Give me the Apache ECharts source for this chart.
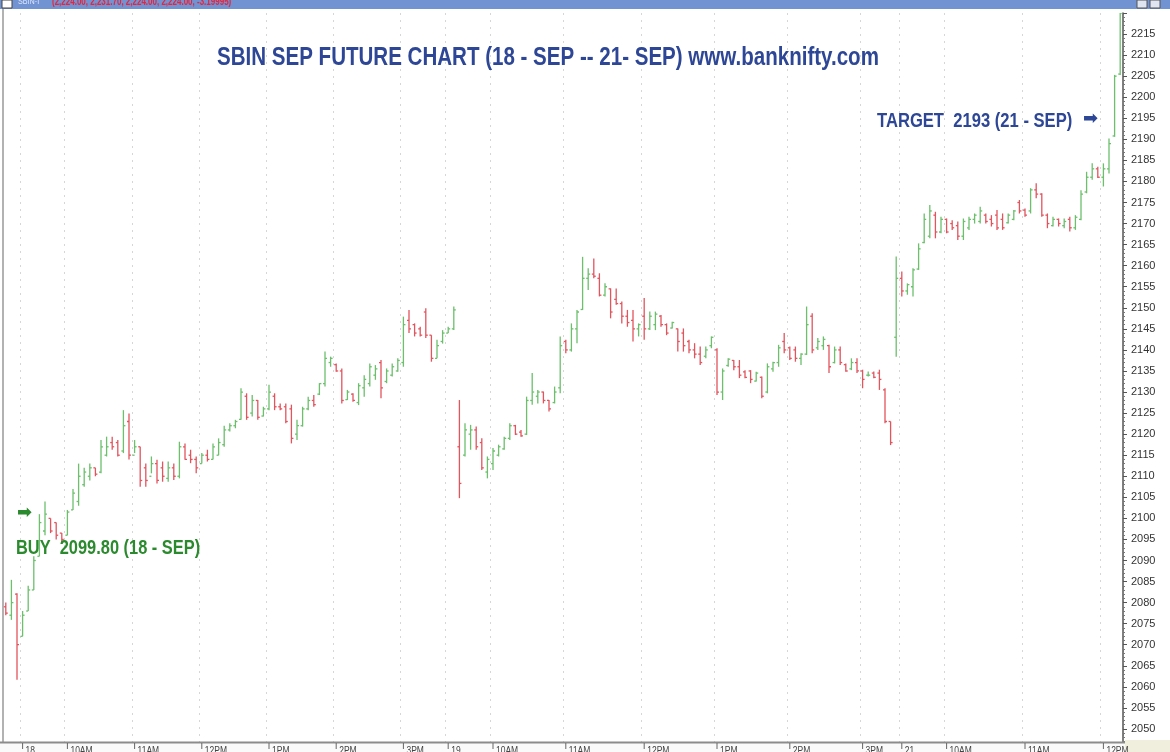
<!DOCTYPE html>
<html>
<head>
<meta charset="utf-8">
<script src="https://cdn.jsdelivr.net/npm/echarts@6/dist/echarts.min.js"></script>
<style>
  html, body { margin: 0; padding: 0; background: #fff; }
  #chart { width: 1170px; height: 752px; }
</style>
</head>
<body>
<div id="chart"></div>
<script>
// bars as [open, high, low, close]
const day1Bars = [
  [2079,2080,2077,2077.5],[2077,2085.4,2075.9,2080],[2082,2082.2,2061.7,2070],[2072,2078,2072,2077],
  [2078,2084,2078,2083],[2083,2091,2083,2090],[2091,2101,2091,2099],[2097,2104,2096,2101],
  [2100,2100,2096.5,2097],[2099,2099,2095,2096],[2096.5,2096.5,2094,2095],[2096,2102,2096,2101.5],
  [2102,2107,2102,2106],[2104,2113,2103,2110],[2108,2112,2107.5,2111],[2110,2113,2109,2112],
  [2112,2112,2110,2110.5],[2111,2118.6,2110.7,2117],[2115,2119.4,2114.7,2117],[2118,2119.4,2116.3,2117],
  [2118,2118.6,2114.7,2115],[2116,2125.7,2115.5,2122],[2123,2124.9,2114,2115],[2115,2118.6,2115.5,2117],
  [2117,2117,2107.5,2109],[2112,2113,2107.5,2109],[2110,2114.7,2110.7,2113],[2113,2113.9,2108.3,2109],
  [2112,2113.5,2108.7,2110],[2109.5,2113.5,2108.7,2112],[2112,2113,2109.1,2110],[2110,2118.2,2109.5,2117],
  [2117,2117.8,2113.9,2114],[2115,2116.3,2113.1,2114],[2114,2114.7,2110.7,2112],[2113,2115.5,2113,2115],
  [2115,2116.3,2113.5,2114],[2114,2117.8,2114,2117],[2115,2119,2115,2118],[2117.5,2122,2117,2121],
  [2121,2122.6,2120.6,2122],[2122,2123.4,2121.4,2123],[2123.5,2130.9,2123.4,2130],[2129,2129.7,2123.4,2124],
  [2125,2129.3,2124.2,2128],[2128,2128.1,2123.4,2124],[2124.3,2126.5,2124.2,2126],[2126,2131.7,2125.7,2130],
  [2129,2129.7,2125.7,2126.5],[2126.5,2127.3,2125.7,2126],[2126.5,2127.3,2122.6,2123],[2126,2127,2117.8,2119],
  [2120,2123.4,2118.6,2122],[2122,2126.5,2121.8,2126],[2126,2128.9,2125.7,2128],[2128,2129.3,2126.5,2127],
  [2129.5,2132.1,2129.3,2132],[2132,2139.6,2131.3,2138],[2137,2138.4,2136,2138],[2136.5,2136.8,2134.8,2135],
  [2135,2135.6,2127.3,2128],[2128.2,2130.5,2128.1,2130],[2129.5,2129.7,2127.7,2128],[2127.5,2132.1,2126.9,2131.5],
  [2131,2134,2128.9,2133],[2132,2136.8,2131.3,2136],[2134,2136.4,2132.9,2135.5],[2137,2137.6,2128.5,2131],
  [2132.5,2135.6,2132.1,2135],[2134,2136.8,2133.7,2136],[2135,2138,2134.8,2137.5],[2137,2147.9,2136,2146],
  [2147,2149.5,2144,2145],[2146,2146.3,2143.2,2144],[2145,2145.5,2143.2,2143.5],[2149,2149.9,2142.8,2143.5],
  [2143.5,2143.5,2137.2,2138],[2138,2142.4,2138,2141],[2142,2144.7,2141.5,2144],[2144,2145.5,2144,2145],
  [2145,2150.3,2144.7,2149.5]
];
const day2Bars = [
  [2117,2128.1,2104.8,2108.3],[2115,2122.6,2114.7,2121],[2120,2122.2,2116.3,2121],[2121,2121.8,2116.3,2117],
  [2118,2119,2111.5,2112],[2111,2114.7,2109.5,2114],[2113,2116.7,2111.5,2116],[2115,2117.5,2114.7,2117],
  [2116.5,2119.4,2116.3,2119],[2119,2122.6,2118.6,2122],[2122,2122.2,2119.8,2120],[2120.5,2121,2119.4,2119.6],
  [2120,2128.9,2119.8,2128],[2128,2134.5,2127,2130],[2129,2130.5,2127.3,2130],[2130,2130.1,2127.3,2128],
  [2128,2128.1,2125.4,2126],[2127.5,2131.3,2127.3,2130],[2131,2143.2,2129.7,2141],[2142,2142.4,2139.2,2140],
  [2140,2146.3,2139.6,2145],[2145,2149.5,2141.6,2149],[2149.6,2162.1,2149.5,2157],[2157,2159.4,2154.2,2158],
  [2158,2161.7,2157,2157.5],[2157,2158.2,2152.7,2153],[2153,2155.8,2152.7,2155],[2154.5,2154.6,2147.5,2149],
  [2152,2154.6,2150.7,2151],[2151,2151.5,2146.3,2148],[2148,2149.5,2145.5,2146.5],[2147,2149.5,2142,2145],
  [2145,2146.3,2143.2,2146],[2148,2152.3,2142.4,2145],[2145,2149.1,2144.7,2148],[2146,2149.1,2144.7,2148.5],
  [2148,2148.3,2145.5,2146],[2146,2146.3,2143.5,2144],[2145.2,2146.7,2145.1,2146.5],[2145,2145.1,2139.6,2142],
  [2144,2145.1,2139.6,2141],[2142,2142.4,2139.2,2140],[2140,2141.6,2138,2139],[2139,2140.8,2136.4,2137],
  [2138.5,2140.8,2138,2140],[2141,2143.2,2140.4,2143],[2140,2140.4,2129.3,2130],[2130,2135.6,2128.1,2135],
  [2136.3,2138,2136,2137.8],[2137.5,2137.6,2135.2,2136],[2136,2137.6,2133.3,2134],[2134.8,2135.2,2133.3,2133.5],
  [2135,2135.2,2132.1,2133],[2132.6,2134.8,2132.5,2134.5],[2133.5,2133.7,2128.5,2129],[2130,2136.8,2129.7,2136],
  [2135.5,2137.2,2134.8,2137],[2137,2141.2,2136,2140.5],[2142,2144,2139.2,2140],[2140.5,2140.8,2137.6,2138],
  [2140,2140.8,2137.2,2138],[2138,2139.2,2136.4,2139],[2139,2150.3,2138.8,2146],[2148,2148.7,2139.2,2140],
  [2140.5,2142.8,2140,2142],[2141,2143.2,2140,2142.5],[2141,2141.2,2134.5,2136],[2137,2140.8,2136.8,2140],
  [2140,2140.8,2136.4,2137],[2136.5,2136.8,2134.8,2135],[2135.5,2138,2135.2,2137],[2137,2138,2134.5,2135],
  [2135,2135.3,2130.9,2133],[2134,2134.9,2133.7,2134],[2134.5,2134.9,2133.3,2133.5],[2134.5,2135.3,2130.5,2133],
  [2130.5,2130.9,2122.6,2123],[2123,2123,2117.4,2118]
];
const day3Bars = [
  [2143,2162.2,2138.4,2157],[2157,2158.6,2152.7,2154],[2154,2155.8,2153.1,2155.5],[2155,2159.4,2152.7,2159],
  [2159.2,2165.3,2159,2164],[2165.5,2172.4,2165.3,2171],[2167,2174.4,2166.5,2173],[2172,2172.8,2166.5,2168],
  [2168,2171.6,2167.7,2171],[2171,2171.2,2167.7,2168],[2170,2170.8,2168.5,2169],[2169.5,2170.5,2166.1,2167],
  [2167,2171.2,2166.1,2170.5],[2169,2171.6,2168.5,2171],[2171,2172.4,2170,2172],[2170.5,2174,2170,2173],
  [2172,2172.4,2170,2170.5],[2171,2172,2169.3,2170],[2172,2173.2,2168.5,2169],[2171,2172.4,2168.5,2169],
  [2170.2,2172.4,2170,2172],[2171,2173.2,2170.8,2173],[2175,2175.6,2172.4,2173],[2173.2,2173.6,2171.6,2172],
  [2173,2178.4,2172.4,2178],[2178,2179.6,2176,2177],[2177,2177.2,2171.6,2172],[2172,2172.4,2168.9,2170],
  [2169.5,2171.6,2169.3,2171],[2171,2171.2,2169.3,2170],[2169.5,2171.2,2168.9,2170.5],[2171,2171.6,2168.1,2169],
  [2169,2172,2168.5,2171.5],[2171,2177.9,2170.8,2177],[2177.5,2182.3,2177.2,2181],[2181,2184.3,2180.4,2183],
  [2183,2183.5,2180.8,2181],[2181,2184.3,2178.8,2183],[2183,2190.2,2181.9,2189],[2190.8,2205.3,2190.6,2205],
  [2205.5,2222,2205.3,2220]
];
const bars = day1Bars.concat(day2Bars, day3Bars);
const categories = bars.map((b, i) => i);

// hour ticks (bar index) and their labels
const tickIdx = [3, 11, 23, 35, 47, 59, 71, 79, 87, 100, 114, 127, 140, 153, 160, 168, 182, 196];
const tickLabels = ['18', '10AM', '11AM', '12PM', '1PM', '2PM', '3PM', '19', '10AM', '11AM', '12PM', '1PM', '2PM', '3PM', '21', '10AM', '11AM', '12PM'];

const titleText = 'SBIN SEP FUTURE CHART (18 - SEP -- 21- SEP) www.banknifty.com';
const buyText = 'BUY  2099.80 (18 - SEP)';
const targetText = 'TARGET  2193 (21 - SEP)';

const UP = '#6cbf6c', DOWN = '#e2545e';
const FONT = '"Liberation Sans", Arial, sans-serif';

const chart = echarts.init(document.getElementById('chart'));

function renderOhlc(params, api) {
  const x = api.value(0);
  const o = api.value(1), h = api.value(2), l = api.value(3), c = api.value(4);
  const pH = api.coord([x, h]), pL = api.coord([x, l]);
  const pO = api.coord([x, o]), pC = api.coord([x, c]);
  const color = c >= o ? UP : DOWN;
  const t = 2;
  return {
    type: 'group',
    children: [
      { type: 'line', shape: { x1: pH[0], y1: pH[1], x2: pL[0], y2: pL[1] }, style: { stroke: color, lineWidth: 1.3 } },
      { type: 'line', shape: { x1: pO[0] - t, y1: pO[1], x2: pO[0], y2: pO[1] }, style: { stroke: color, lineWidth: 1.3 } },
      { type: 'line', shape: { x1: pC[0], y1: pC[1], x2: pC[0] + t, y2: pC[1] }, style: { stroke: color, lineWidth: 1.3 } }
    ]
  };
}

chart.setOption({
  animation: false,
  grid: { left: 3, right: 47, top: 13, bottom: 2 },
  xAxis: {
    type: 'category',
    data: categories,
    axisLine: { show: false },
    axisTick: { show: false },
    axisLabel: { show: false },
    splitLine: {
      show: true,
      interval: (idx) => tickIdx.indexOf(idx) >= 0,
      lineStyle: { color: '#d6d6d6', type: [2, 5] }
    }
  },
  yAxis: {
    type: 'value',
    position: 'right',
    min: 2045,
    max: 2220,
    interval: 5,
    axisLine: { show: true, lineStyle: { color: '#555', width: 1.5 } },
    axisTick: { show: true, length: 4, lineStyle: { color: '#555' } },
    minorTick: { show: true, splitNumber: 5, length: 2, lineStyle: { color: '#777' } },
    axisLabel: {
      color: '#333', fontSize: 11, fontFamily: FONT, margin: 8,
      formatter: (v) => (v >= 2050 && v <= 2215 ? String(v) : '')
    },
    splitLine: { show: false }
  },
  series: [{
    type: 'custom',
    renderItem: renderOhlc,
    encode: { x: 0, y: [1, 2, 3, 4] },
    data: bars.map((b, i) => [i, b[0], b[1], b[2], b[3]]),
    clip: true
  }]
});

// bottom strip with time labels, placed through the category scale
const stripItems = [
  { type: 'rect', z: 100, shape: { x: 0, y: 742, width: 1170, height: 10 }, style: { fill: '#fafafa' } },
  { type: 'line', z: 101, shape: { x1: 0, y1: 742.5, x2: 1125, y2: 742.5 }, style: { stroke: '#8c8c8c', lineWidth: 2 } },
  { type: 'rect', z: 101, shape: { x: 1125, y: 740, width: 45, height: 12 }, style: { fill: '#f0eedc' } }
];
tickIdx.forEach((idx, k) => {
  const px = chart.convertToPixel({ xAxisIndex: 0 }, idx);
  stripItems.push({ type: 'line', z: 101, shape: { x1: px, y1: 743, x2: px, y2: 749 }, style: { stroke: '#666', lineWidth: 1 } });
  stripItems.push({ type: 'text', z: 101, x: px + 3, y: 746, scaleX: 0.85, style: { text: tickLabels[k], fill: '#444', font: '10px ' + FONT } });
});

chart.setOption({
  graphic: [
    // window strip at the top
    { type: 'rect', z: 100, shape: { x: 0, y: 0, width: 1170, height: 9 }, style: { fill: '#7193d2' } },
    { type: 'rect', z: 101, shape: { x: 2, y: 0, width: 10, height: 8 }, style: { fill: '#fff', stroke: '#444' } },
    { type: 'text', z: 101, x: 18, y: -3, scaleX: 0.8, style: { text: 'SBIN-I', fill: '#dce6ff', font: '9px ' + FONT } },
    { type: 'text', z: 101, x: 52, y: -3, scaleX: 0.8, style: { text: '(2,224.00, 2,231.70, 2,224.00, 2,224.00, -3.19995)', fill: '#e8233a', font: 'bold 10px ' + FONT } },
    { type: 'rect', z: 101, shape: { x: 1137, y: 0, width: 10, height: 8 }, style: { fill: '#dfe6f2', stroke: '#555' } },
    { type: 'rect', z: 101, shape: { x: 1150, y: 0, width: 10, height: 8 }, style: { fill: '#dfe6f2', stroke: '#555' } },
    { type: 'line', z: 100, shape: { x1: 3, y1: 9, x2: 3, y2: 742 }, style: { stroke: '#999', lineWidth: 1.5 } },
    // annotations (condensed look via horizontal scaling)
    { type: 'text', z: 50, x: 217, y: 45, scaleX: 0.79, style: { text: titleText, fill: '#2d4796', font: 'bold 26px ' + FONT } },
    { type: 'text', z: 50, x: 877, y: 111, scaleX: 0.83, style: { text: targetText, fill: '#2d4796', font: 'bold 20px ' + FONT } },
    { type: 'text', z: 50, x: 1083, y: 110, style: { text: '➡', fill: '#2d4796', font: 'bold 18px "DejaVu Sans"' } },
    { type: 'text', z: 50, x: 16, y: 538, scaleX: 0.82, style: { text: buyText, fill: '#2b8a2e', font: 'bold 20px ' + FONT } },
    { type: 'text', z: 50, x: 17, y: 504, style: { text: '➡', fill: '#2b8a2e', font: 'bold 18px "DejaVu Sans"' } }
  ].concat(stripItems)
});
</script>
</body>
</html>
